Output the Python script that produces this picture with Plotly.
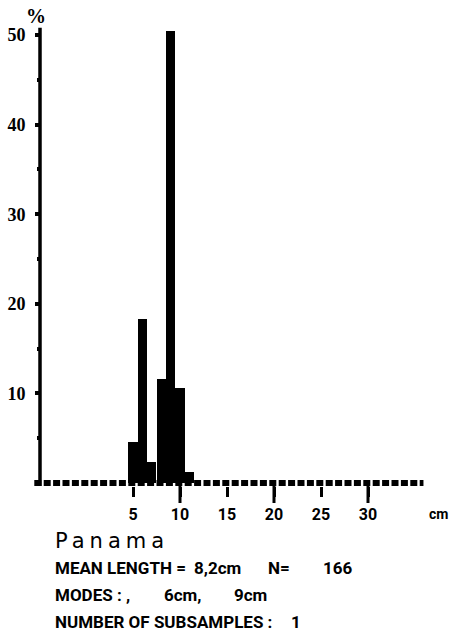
import plotly.graph_objects as go

# ---- data ----
length_cm = [5, 6, 7, 8, 9, 10, 11]
percent = [4.6, 18.3, 2.4, 11.6, 50.4, 10.6, 1.2]
x_tick_vals = [5, 10, 15, 20, 25, 30]
x_long_ticks = [10, 20, 30]
y_tick_vals = [10, 20, 30, 40, 50]
y_minor_ticks = [5, 15, 25, 35, 45]
bin_start, bin_end = -5, 35

# ---- pixel mapping of the original figure ----
W, H = 450, 632
X0_PX, PX_PER_CM = 86.0, 9.4
Y0_PX, PX_PER_PCT = 483.0, 8.96
AXIS_X_PX = 40.0

x_range = [-X0_PX / PX_PER_CM, (W - X0_PX) / PX_PER_CM]
y_range = [-(H - Y0_PX) / PX_PER_PCT, Y0_PX / PX_PER_PCT]
axis_x = (AXIS_X_PX - X0_PX) / PX_PER_CM
band = 3.0 / PX_PER_PCT

fig = go.Figure()
fig.add_trace(go.Bar(x=length_cm, y=percent, width=0.96,
                     marker=dict(color="black", line=dict(width=0)),
                     showlegend=False, hoverinfo="skip"))

shapes = []
# baseline of bins (dashed thick)
shapes.append(dict(type="line", xref="x", yref="y",
                   x0=bin_start - 0.5, x1=bin_end + 0.9, y0=0, y1=0,
                   line=dict(color="black", width=6, dash="7px,2.4px")))
# y axis line
shapes.append(dict(type="line", xref="x", yref="y",
                   x0=axis_x, x1=axis_x, y0=-band, y1=max(y_tick_vals) + 0.8,
                   line=dict(color="black", width=3.5)))
# long ticks
for t in x_long_ticks:
    shapes.append(dict(type="line", xref="x", yref="y",
                       x0=t, x1=t, y0=-band, y1=-band - 17 / PX_PER_PCT,
                       line=dict(color="black", width=3)))

pix = "Roboto, Liberation Sans, sans-serif"

def px_x(p):
    return p / W

def px_y(p):
    return 1 - p / H

ann = []
def add(text, x, y, size=17, family=pix, xanchor="left", weight="bold"):
    ann.append(dict(text=text, x=px_x(x), y=px_y(y), xref="paper", yref="paper",
                    xanchor=xanchor, yanchor="middle", showarrow=False,
                    font=dict(family=family, size=size, color="black", weight=weight)))

add("%", 36, 16, size=20, family="Liberation Serif", xanchor="center")
add("cm", 438, 514, size=14, xanchor="center")
add('<span style="letter-spacing:5px">Panama</span>', 53, 541, size=21,
    family="DejaVu Sans", weight="normal")
add("MEAN LENGTH =", 53, 568)
add("8,2cm", 192, 568)
add("N=", 266, 568)
add("166", 321, 568)
add("MODES : ,", 53, 595)
add("6cm,", 162, 595)
add("9cm", 232, 595)
add("NUMBER OF SUBSAMPLES :", 53, 622)
add("1", 289, 622)

fig.update_layout(
    width=W, height=H, autosize=False,
    margin=dict(l=0, r=0, t=0, b=0),
    paper_bgcolor="white", plot_bgcolor="white",
    bargap=0, shapes=shapes, annotations=ann,
    xaxis=dict(range=x_range, domain=[0, 1], anchor="free",
               position=(H - (Y0_PX + 3)) / H,
               tickvals=x_tick_vals, ticks="outside", ticklen=10, tickwidth=3,
               tickcolor="black", ticklabelstandoff=4,
               tickfont=dict(family=pix, size=16, color="black", weight="bold"),
               showgrid=False, zeroline=False, showline=False, fixedrange=True),
    yaxis=dict(range=y_range, domain=[0, 1], anchor="free",
               position=AXIS_X_PX / W,
               tickvals=y_tick_vals, ticks="outside", ticklen=5, tickwidth=4,
               tickcolor="black", ticklabelstandoff=6,
               minor=dict(tickvals=y_minor_ticks, ticks="outside",
                          ticklen=3, tickwidth=4, tickcolor="black"),
               tickfont=dict(family="Liberation Serif", size=18, color="black",
                             weight="bold"),
               showgrid=False, zeroline=False, showline=False, fixedrange=True),
)

fig.write_html("out.html", config={"displayModeBar": False},
               post_script="document.body.style.margin='0';"
                           "document.body.style.overflow='hidden';")
